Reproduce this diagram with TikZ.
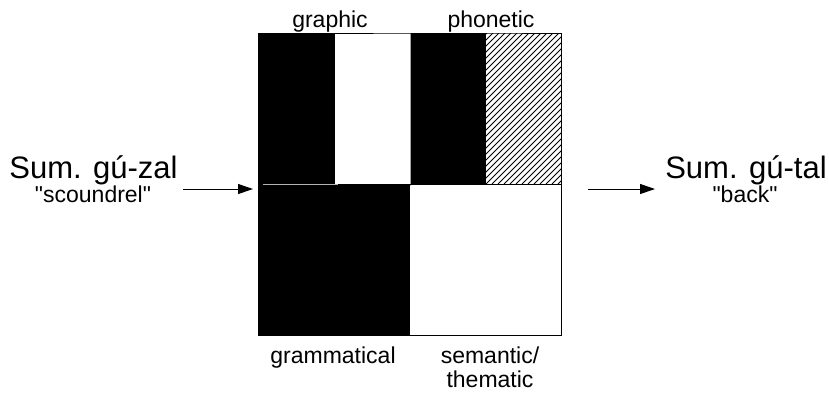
\documentclass[tikz,border=0pt]{standalone}
\usepackage{fontspec}
\setmainfont{Liberation Sans}
\newfontfamily\plainsans{Liberation Sans}
\usetikzlibrary{arrows.meta}
\begin{document}
\begin{tikzpicture}[x=1pt,y=-1pt,
  cell/.style={draw=none,inner sep=0pt,outer sep=0pt},
  lab/.style={inner sep=0pt,anchor=base,font=\plainsans\fontsize{23}{24}\selectfont},
  big/.style={inner sep=0pt,anchor=base,font=\plainsans\fontsize{31}{33}\selectfont},
  conn/.style={line width=1pt,-{Triangle[length=15pt,width=10pt]}}]
\useasboundingbox (0,0) rectangle (829,392);
% cells
\node[cell,fill=black,minimum width=77,minimum height=151] (c1) at (296.5,108.5) {};
\node[cell,fill=white,minimum width=75,minimum height=151] (c2) at (372.5,108.5) {};
\node[cell,fill=black,minimum width=76,minimum height=151] (c3) at (448,108.5) {};
\node[cell,minimum width=75,minimum height=151] (c4) at (523.5,108.5) {};
\node[cell,fill=black,minimum width=152,minimum height=151] (c5) at (334,259.5) {};
\node[cell,fill=white,minimum width=151,minimum height=151] (c6) at (485.5,259.5) {};
% hatching
\begin{scope}
\clip (c4.south west) rectangle (c4.north east);
\foreach \i in {330,336,...,566} \draw[line width=0.8pt] (\i,184) -- (\i+151,33);
\end{scope}
\draw[gray!60,line width=0.8pt] (263,184) -- (338,184);
\draw[gray!70,line width=0.6pt] (410,33) -- (410,186);
\draw[line width=1pt] (c4.north west) -- (c4.north east) -- (c6.south east) -- (c5.south west) -- (c1.north west) -- cycle;
\draw[line width=1pt] (c3.south west) -- (c4.south east);
% labels
\node[lab] (graphic) at (330,27) {graphic};
\node[lab] (phonetic) at (491,27) {phonetic};
\node[lab] (gram) at (333,363) {grammatical};
\node[lab,align=center] (sem) at (490,387) {semantic/\\thematic};
\node[big] (lw) at (93.5,178) {Sum. gú-zal};
\node[lab] (lg) at (93,202) {"scoundrel"};
\node[big] (rw) at (746,178) {Sum. gú-tal};
\node[lab] (rg) at (745,202) {"back"};
% connectors
\coordinate (a1) at (183,189);
\coordinate (a2) at (253,189);
\coordinate (b1) at (588,189);
\coordinate (b2) at (655,189);
\draw[conn] (a1) -- (a2);
\draw[conn] (b1) -- (b2);
\end{tikzpicture}
\end{document}
